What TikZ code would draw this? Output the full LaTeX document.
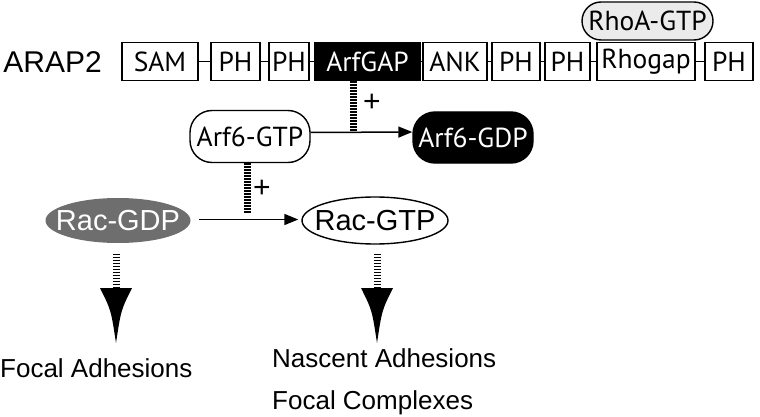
\documentclass[tikz,border=0pt]{standalone}
\usepackage{fontspec}
\setmainfont{Liberation Sans}
\newfontfamily\domfont{PT Sans}
\usetikzlibrary{arrows.meta,shapes.geometric}
\begin{document}
\begin{tikzpicture}[x=1pt,y=-1pt,
  dom/.style={draw,line width=1.4pt,minimum height=38pt,inner sep=0pt,font=\domfont\fontsize{27.5}{27.5}\selectfont},
  pill/.style={draw,line width=1.4pt,rounded corners=22pt,inner sep=0pt,font=\domfont\fontsize{27.5}{27.5}\selectfont},
  oval/.style={ellipse,draw,line width=1.4pt,inner sep=-13pt,font=\fontsize{29}{29}\selectfont},
  link/.style={line width=1.3pt},
  conv/.style={line width=1.5pt,-{Triangle[length=14pt,width=11pt]}},
  stripe/.style={line width=7pt,dash pattern=on 1.6pt off 1.4pt},
  plus/.style={font=\fontsize{30}{30}\selectfont,inner sep=0pt},
  txtlabel/.style={font=\fontsize{26}{42}\selectfont,inner sep=0pt,align=left,anchor=west}
]
\useasboundingbox (0,0) rectangle (760,417);
% ARAP2 label
\node[anchor=east,inner sep=0pt,font=\fontsize{30}{30}\selectfont] (arap) at (102,62) {ARAP2};
% domains
\node[dom,minimum width=76pt] (sam) at (160,61.5) {SAM};
\node[dom,minimum width=49pt] (ph1) at (235.5,61.5) {PH};
\node[dom,minimum width=40pt] (ph2) at (289,61.5) {PH};
\node[dom,minimum width=105pt,fill=black,text=white] (arfgap) at (367.5,61.5) {ArfGAP};
\node[dom,minimum width=64pt] (ank) at (455,61.5) {ANK};
\node[dom,minimum width=48pt] (ph3) at (516,61.5) {PH};
\node[dom,minimum width=45pt] (ph4) at (567.5,61.5) {PH};
\node[dom,minimum width=98pt] (rhogap) at (646,61.5) {Rhogap};
\node[dom,minimum width=48pt] (ph5) at (729,61.5) {PH};
\foreach \a/\b in {sam/ph1,ph1/ph2,ph2/arfgap,arfgap/ank,ank/ph3,ph3/ph4,ph4/rhogap,rhogap/ph5}
  \draw[link] (\a.east) -- (\b.west);
% RhoA-GTP
\node[pill,fill=black!8,minimum width=131pt,minimum height=38pt,rounded corners=19pt] (rhoa) at (647.5,21) {RhoA-GTP};
% Arf6
\node[pill,fill=white,minimum width=120pt,minimum height=52pt] (arfgtp) at (250,136.5) {Arf6-GTP};
\node[pill,fill=black,text=white,minimum width=120pt,minimum height=51pt] (arfgdp) at (473,137.5) {Arf6-GDP};
\draw[conv] ([yshift=4pt]arfgtp.east) -- ([yshift=5.5pt]arfgdp.west);
\coordinate (c1) at (353,131);
\draw[stripe] (c1 |- arfgap.south) -- (c1);
\node[plus] (p1) at (372,103) {+};
% Rac
\node[oval,fill=black!57,draw=none,text=white,minimum width=145pt,minimum height=45pt] (racgdp) at (118,220.5) {Rac-GDP};
\node[oval,fill=white,minimum width=146pt,minimum height=47pt] (racgtp) at (375,220.5) {Rac-GTP};
\draw[conv,shorten <=8pt,shorten >=3pt] ([yshift=1pt]racgdp.east) -- ([yshift=1pt]racgtp.west);
\coordinate (c2) at (247,214);
\draw[stripe] (c2 |- arfgtp.south) -- (c2);
\node[plus] (p2) at (262,189) {+};
% downstream
\coordinate (hA) at (116,288);
\coordinate (hB) at (377,288);
\draw[stripe] ([yshift=-10pt]racgdp.south -| hA) -- (hA);
\draw[stripe] ([yshift=-9pt]racgtp.south -| hB) -- (hB);
\foreach \h in {hA,hB}{
  \fill ([xshift=-16pt]\h) -- ([xshift=16pt]\h) .. controls ([shift={(5pt,-22pt)}]\h) .. ([yshift=-55pt]\h) .. controls ([shift={(-5pt,-22pt)}]\h) .. cycle;
}
\node[txtlabel] (focal) at (0,368) {Focal Adhesions};
\node[txtlabel] (nascent) at (272,382) {Nascent Adhesions\\Focal Complexes};
\end{tikzpicture}
\end{document}
